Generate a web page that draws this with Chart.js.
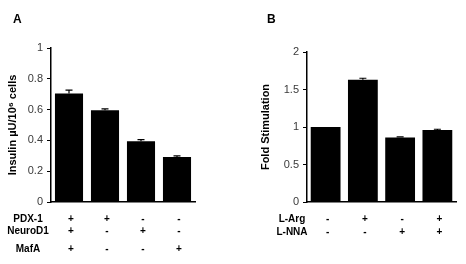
<!DOCTYPE html>
<html><head><meta charset="utf-8">
<script src="https://cdn.jsdelivr.net/npm/chart.js@4"></script>
<style>
body{margin:0;background:#fff;width:466px;height:264px;overflow:hidden;position:relative}
canvas{position:absolute;top:0}
#ca{left:0}
#cb{left:233px}
</style></head><body>
<canvas id="ca" width="233" height="264"></canvas>
<canvas id="cb" width="233" height="264"></canvas>
<script>
// ---- Panel A data ----
const categoriesA = ['c1', 'c2', 'c3', 'c4'];
const insulinValues = [0.705, 0.595, 0.395, 0.292];
const insulinErrors = [0.022, 0.010, 0.010, 0.008];
const rowLabelsA = ['PDX-1', 'NeuroD1', 'MafA'];
const pdx1 = ['+', '+', '-', '-'];
const neurod1 = ['+', '-', '+', '-'];
const mafa = ['+', '-', '-', '+'];
const yTitleA = 'Insulin \u00b5U/10\u2076 cells';

// ---- Panel B data ----
const categoriesB = ['d1', 'd2', 'd3', 'd4'];
const foldValues = [1.0, 1.63, 0.86, 0.96];
const foldErrors = [0.0, 0.02, 0.008, 0.01];
const rowLabelsB = ['L-Arg', 'L-NNA'];
const lArg = ['-', '+', '-', '+'];
const lNna = ['-', '-', '+', '+'];
const yTitleB = 'Fold Stimulation';

const FONT = "'Liberation Sans', Arial, Helvetica, sans-serif";

function errorBarPlugin(errors) {
  return {
    id: 'errbars',
    afterDatasetsDraw(chart) {
      const {ctx} = chart;
      const meta = chart.getDatasetMeta(0);
      const ys = chart.scales.y;
      const vals = chart.data.datasets[0].data;
      ctx.save();
      ctx.strokeStyle = '#000';
      ctx.lineWidth = 1.2;
      meta.data.forEach((bar, i) => {
        if (!errors[i]) return;
        const yTop = ys.getPixelForValue(vals[i] + errors[i]);
        const yBase = ys.getPixelForValue(vals[i]);
        ctx.beginPath();
        ctx.moveTo(bar.x, yBase);
        ctx.lineTo(bar.x, yTop);
        ctx.moveTo(bar.x - 3.5, yTop);
        ctx.lineTo(bar.x + 3.5, yTop);
        ctx.stroke();
      });
      ctx.restore();
    }
  };
}

function rowsPlugin(rows, labelX, rowYs, panelLetter, letterPos) {
  return {
    id: 'rows',
    afterDraw(chart) {
      const {ctx} = chart;
      const xs = chart.scales.x;
      ctx.save();
      ctx.fillStyle = '#000';
      ctx.textBaseline = 'middle';
      ctx.font = 'bold 10px ' + FONT;
      rows.forEach((row, r) => {
        ctx.textAlign = 'center';
        ctx.fillText(row.label, labelX, rowYs[r]);
        row.marks.forEach((m, i) => {
          ctx.fillText(m, xs.getPixelForValue(i) + 2, rowYs[r]);
        });
      });
      ctx.font = 'bold 12px ' + FONT;
      ctx.textAlign = 'left';
      ctx.fillText(panelLetter, letterPos[0], letterPos[1]);
      ctx.restore();
    }
  };
}

function makeChart(id, cats, vals, errs, yMax, step, title, titlePad, yWidth, padRight, padTop, barPct, plugins) {
  return new Chart(document.getElementById(id), {
    type: 'bar',
    data: {
      labels: cats,
      datasets: [{
        data: vals,
        backgroundColor: '#000',
        borderWidth: 0,
        barPercentage: barPct,
        categoryPercentage: 1.0
      }]
    },
    options: {
      responsive: false,
      animation: false,
      events: [],
      layout: {padding: {left: 0, right: padRight, top: padTop, bottom: 0}},
      plugins: {legend: {display: false}, tooltip: {enabled: false}},
      scales: {
        x: {
          grid: {display: false, drawTicks: false},
          border: {display: true, color: '#000', width: 1.5},
          ticks: {display: false},
          afterFit(s) { s.height = 62; }
        },
        y: {
          min: 0, max: yMax,
          grid: {drawOnChartArea: false, drawTicks: true, tickLength: 4, color: '#000', lineWidth: 1},
          border: {display: true, color: '#000', width: 1.5},
          ticks: {stepSize: step, color: '#3a3a3a', padding: 4, font: {family: FONT, size: 11},
                  callback: v => String(+Number(v).toFixed(2))},
          title: {display: true, text: title, color: '#000', font: {family: FONT, size: 11, weight: 'bold'}, padding: {top: titlePad, bottom: 0}},
          afterFit(s) { s.width = yWidth; }
        }
      }
    },
    plugins: plugins
  });
}

makeChart('ca', categoriesA, insulinValues, insulinErrors, 1, 0.2, yTitleA, 6, 51, 38, 48, 0.78, [
  errorBarPlugin(insulinErrors),
  rowsPlugin([
    {label: rowLabelsA[0], marks: pdx1},
    {label: rowLabelsA[1], marks: neurod1},
    {label: rowLabelsA[2], marks: mafa}
  ], 28, [219, 231, 249], 'A', [13, 20])
]);

makeChart('cb', categoriesB, foldValues, foldErrors, 2, 0.5, yTitleB, 26, 74, 10, 52, 0.8, [
  errorBarPlugin(foldErrors),
  rowsPlugin([
    {label: rowLabelsB[0], marks: lArg},
    {label: rowLabelsB[1], marks: lNna}
  ], 59, [219, 232], 'B', [34, 20])
]);
</script>
</body></html>
